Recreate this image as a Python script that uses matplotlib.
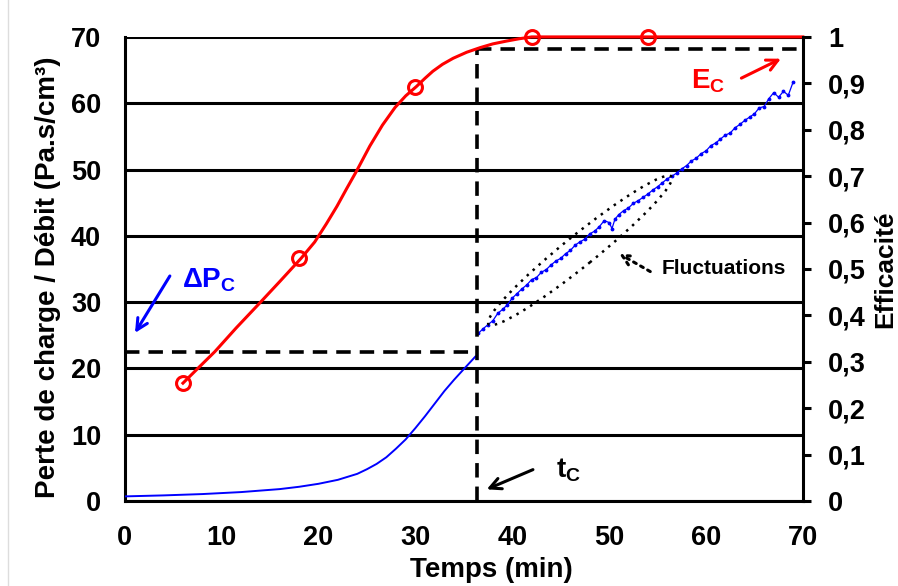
import numpy as np
import matplotlib
matplotlib.use('Agg')
import matplotlib.pyplot as plt
from matplotlib.patches import Ellipse
from matplotlib.lines import Line2D
from matplotlib.transforms import ScaledTranslation

plt.rcParams['font.family'] = 'Liberation Sans'
plt.rcParams['font.weight'] = 'bold'
plt.rcParams['mathtext.fontset'] = 'custom'
plt.rcParams['mathtext.rm'] = 'Liberation Sans:bold'
plt.rcParams['mathtext.bf'] = 'Liberation Sans:bold'

# pressure drop / flow (left axis), smooth part before t_c
t_smooth = [0, 4, 8, 12, 16, 18, 20, 22, 24, 25, 26, 27, 28, 29, 30, 31, 32, 33, 34, 35, 36.2]
dp_smooth = [0.7, 0.85, 1.05, 1.35, 1.8, 2.15, 2.6, 3.2, 4.1, 4.8, 5.6, 6.6, 7.9, 9.3, 11.0,
             12.8, 14.7, 16.6, 18.3, 19.9, 21.8]

# noisy part after t_c
t_noisy = [36.5, 37.0, 37.5, 38.0, 38.5, 39.0, 39.5, 40.0, 40.5, 41.0, 41.5, 42.0, 42.5, 43.0,
           43.5, 44.0, 44.5, 45.0, 45.5, 46.0, 46.5, 47.0, 47.5, 48.0, 48.5, 49.0, 49.5, 50.0,
           50.3, 50.6, 51.0, 51.5, 52.0, 52.5, 53.0, 53.5, 54.0, 54.5, 55.0, 55.5, 56.0, 56.5,
           57.0, 57.5, 58.0, 58.5, 59.0, 59.5, 60.0, 60.5, 61.0, 61.5, 62.0, 62.5, 63.0, 63.5,
           64.0, 64.5, 65.0, 65.5, 66.0, 66.5, 67.0, 67.5, 68.0, 68.5, 69.0]
dp_noisy = [25.3, 26.0, 26.6, 27.2, 28.3, 28.9, 29.6, 30.6, 31.3, 32.0, 32.6, 33.4, 33.7, 34.5,
            34.9, 35.6, 36.2, 36.6, 37.3, 37.8, 38.6, 39.1, 39.5, 40.3, 40.7, 41.4, 42.3, 42.0,
            41.1, 42.5, 43.2, 43.8, 44.2, 44.9, 45.3, 45.8, 46.3, 46.9, 47.4, 48.0, 48.6, 49.0,
            49.5, 50.1, 50.6, 51.3, 51.7, 52.4, 52.8, 53.6, 54.0, 54.6, 55.2, 55.5, 56.3, 56.8,
            57.4, 57.9, 58.4, 59.3, 59.5, 60.7, 61.6, 60.9, 61.8, 61.2, 63.2]

# efficiency (right axis)
t_eff = [6, 7.5, 9.3, 11.5, 13.9, 16, 18.2, 19.6, 20.8, 21.9, 22.9, 23.9, 25.3, 26.6, 27.9,
         29.0, 30.1, 31.0, 31.8, 32.8, 33.9, 35.3, 36.7, 38.0, 39.4, 40.7, 42, 54, 70]
eff = [0.254, 0.285, 0.322, 0.373, 0.426, 0.473, 0.523, 0.558, 0.597, 0.635, 0.673, 0.710,
       0.765, 0.810, 0.848, 0.873, 0.893, 0.911, 0.926, 0.941, 0.954, 0.967, 0.977, 0.985,
       0.991, 0.996, 1.0, 1.0, 1.0]
t_eff_pts = [6, 18, 30, 42, 54]
eff_pts = [0.254, 0.523, 0.893, 1.0, 1.0]

t_c = 36.4
dp_c = 22.5
e_c = 68.2  # in left-axis units

fig = plt.figure(figsize=(8.98, 5.86), dpi=100)
fig.add_artist(Line2D([8 / 898, 8 / 898], [0, 1], color='#dddddd', lw=1))
ax = fig.add_axes([0.139, 0.145, 0.755, 0.792])
ax.set_xlim(0, 70)
ax.set_ylim(0, 70)
ax.set_yticks(range(0, 71, 10))
ax.set_xticks(range(0, 71, 10))
ax.grid(axis='y', color='black', lw=2.2)
ax.tick_params(length=0, pad=17, labelsize=19.5)
for s in ['left', 'bottom']:
    ax.spines[s].set_linewidth(2.2)
ax.spines['top'].set_visible(False)
ax.spines['right'].set_visible(False)

ax.plot(t_smooth, dp_smooth, color='blue', lw=1.4, zorder=3)
ax.plot(t_noisy, dp_noisy, color='blue', lw=0.9, marker='.', ms=3.5, zorder=3)

dash = (4, 2.5)
ax.plot([t_c, t_c], [0, e_c], color='black', lw=2.6, ls=(0, dash), zorder=4)
ax.plot([t_c, 70], [e_c, e_c], color='black', lw=2.6, ls=(0, dash), zorder=4)
ax.plot([0, t_c], [dp_c, dp_c], color='black', lw=2.6, ls=(0, dash), zorder=4)

ax.set_xlabel('Temps (min)', fontsize=20, fontweight='bold')
ax.xaxis.set_label_coords(0.541, -0.149)
ax.xaxis.label.set_va('center')
ax.set_ylabel('Perte de charge / Débit (Pa.s/cm³)', fontsize=20, fontweight='bold')
ax.yaxis.set_label_coords(-0.1136, 0.483)
ax.yaxis.label.set_va('center')

# dotted ellipse around fluctuations
tr = fig.dpi_scale_trans + ScaledTranslation(47.0, 37.8, ax.transData)
ax.add_patch(Ellipse((0, 0), 2.35, 0.31, angle=38.9, transform=tr, fill=False,
                     ls=(0, (1, 2.2)), lw=1.8, color='black', zorder=5))

ax.text(55.4, 35.1, 'Fluctuations', fontsize=15, va='center', ha='left')
ax.annotate('', xy=(50.8, 37.5), xytext=(54.5, 34.4),
            arrowprops=dict(arrowstyle='->', ls=':', lw=2.2, color='black', mutation_scale=18))

ax.text(5.9, 33.3, r'$\Delta$P$_\mathrm{C}$', fontsize=20, color='blue', va='center')
ax.annotate('', xy=(0.9, 25.0), xytext=(4.8, 34.3),
            arrowprops=dict(arrowstyle='->', lw=2.2, color='blue', mutation_scale=20))

ax.text(44.5, 4.7, r't$_\mathrm{C}$', fontsize=20, color='black', va='center')
ax.annotate('', xy=(37.1, 1.6), xytext=(42.4, 4.9),
            arrowprops=dict(arrowstyle='->', lw=2.2, color='black', mutation_scale=20))

ax.text(58.5, 63.3, r'E$_\mathrm{C}$', fontsize=20, color='red', va='center')
ax.annotate('', xy=(68.0, 66.9), xytext=(63.4, 63.6),
            arrowprops=dict(arrowstyle='->', lw=2.2, color='red', mutation_scale=20))

ax2 = ax.twinx()
ax2.set_ylim(0, 1)
ax2.set_yticks(np.arange(0, 1.01, 0.1))
ax2.set_yticklabels(['0', '0,1', '0,2', '0,3', '0,4', '0,5', '0,6', '0,7', '0,8', '0,9', '1'])
ax2.tick_params(length=6, width=2.2, pad=12, labelsize=19.5)
ax2.spines['right'].set_linewidth(2.2)
for s in ['left', 'top', 'bottom']:
    ax2.spines[s].set_visible(False)
ax2.plot(t_eff, eff, color='red', lw=2.2, clip_on=False)
ax2.plot(t_eff_pts, eff_pts, ls='none', marker='o', ms=10, mfc='none', mec='red', mew=2.2,
         clip_on=False)
ax2.set_ylabel('Efficacité', fontsize=19, fontweight='bold')
ax2.yaxis.set_label_coords(1.122, 0.5)
ax2.yaxis.label.set_va('center')

fig.savefig('out.png', dpi=100)
